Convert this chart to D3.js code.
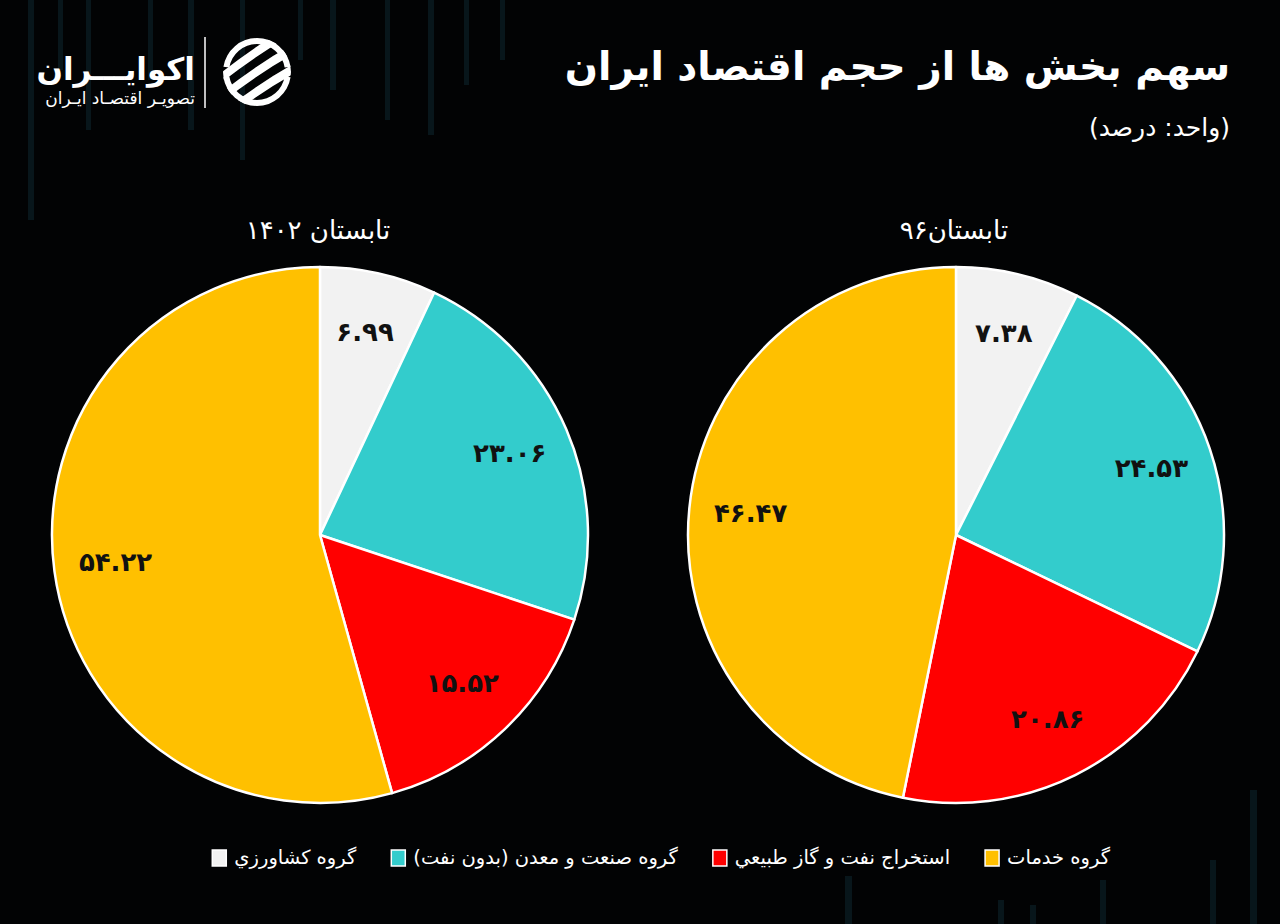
<!DOCTYPE html>
<html>
<head>
<meta charset="utf-8">
<script src="https://cdn.jsdelivr.net/npm/d3@7"></script>
<style>
  html, body { margin: 0; padding: 0; background: #000; }
  svg { display: block; }
  text { font-family: "DejaVu Sans", "Noto Sans", sans-serif; }
</style>
</head>
<body>
<div class="chart"></div>
<script>
// chart data
const categories = ["گروه کشاورزي", "گروه صنعت و معدن (بدون نفت)", "استخراج نفت و گاز طبیعي", "گروه خدمات"];
const colors = ["#f2f2f2", "#33cccc", "#ff0000", "#ffc000"];
const values1402 = [6.99, 23.06, 15.52, 54.22];
const values96 = [7.38, 24.53, 20.86, 46.47];
const pieTitles = ["تابستان ۱۴۰۲", "تابستان۹۶"];
const legendOrder = [3, 2, 1, 0];

window.addEventListener("load", function(){
  const W = 1280, H = 924;
  const svg = d3.select(".chart").append("svg").attr("width", W).attr("height", H);

  svg.append("rect").attr("width", W).attr("height", H).attr("fill", "#020304");

  // faint decorative bars of the background
  const topBars = [[28,6,220],[58,5,70],[86,5,130],[148,5,80],[188,6,130],[240,5,160],[298,5,60],[330,6,90],[385,5,120],[428,6,135],[464,5,85],[500,5,60]];
  const botBars = [[845,7,876],[1100,6,880],[1250,7,790],[1210,6,860],[998,6,900],[1030,6,905]];
  svg.append("g").selectAll("rect").data(topBars).enter().append("rect")
    .attr("x", d => d[0]).attr("y", 0).attr("width", d => d[1]).attr("height", d => d[2])
    .attr("fill", "#08161b");
  svg.append("g").selectAll("rect").data(botBars).enter().append("rect")
    .attr("x", d => d[0]).attr("y", d => d[2]).attr("width", d => d[1]).attr("height", d => H - d[2])
    .attr("fill", "#08161b");

  // logo
  const logo = svg.append("g");
  logo.append("text").attr("x", 195).attr("y", 80)
    .style("direction", "rtl").attr("text-anchor", "start")
    .attr("font-size", 31).attr("font-weight", "bold").attr("fill", "#fff")
    .text("اکوایـــران");
  logo.append("text").attr("x", 195).attr("y", 104)
    .style("direction", "rtl").attr("text-anchor", "start")
    .attr("font-size", 17).attr("fill", "#fff")
    .text("تصویـر اقتصـاد ایـران");
  logo.append("line").attr("x1", 205).attr("x2", 205).attr("y1", 37).attr("y2", 108)
    .attr("stroke", "#fff").attr("stroke-width", 1.5);
  const icon = logo.append("g").attr("transform", "translate(257,72)");
  icon.append("clipPath").attr("id", "logoClip").append("circle").attr("r", 34);
  const ig = icon.append("g").attr("clip-path", "url(#logoClip)");
  [-20, 0, 20].forEach(function(o){
    ig.append("path")
      .attr("d", "M" + (-40) + "," + (o + 24) + " Q 0," + (o - 8) + " 40," + (o - 30) + " L 40," + (o - 20) + " Q 0," + (o + 2) + " -40," + (o + 34) + " Z")
      .attr("fill", "#fff");
  });
  icon.append("path").attr("d", d3.arc()({innerRadius: 28, outerRadius: 34, startAngle: Math.PI * 0.55, endAngle: Math.PI * 1.45}))
    .attr("fill", "#fff");
  icon.append("path").attr("d", d3.arc()({innerRadius: 28, outerRadius: 34, startAngle: -Math.PI * 0.45, endAngle: Math.PI * 0.45}))
    .attr("fill", "#fff");

  // titles
  svg.append("text").attr("x", 1230).attr("y", 80)
    .style("direction", "rtl").attr("text-anchor", "start")
    .attr("font-size", 39).attr("font-weight", "bold").attr("fill", "#fff")
    .text("سهم بخش ها از حجم اقتصاد ایران");
  svg.append("text").attr("x", 1230).attr("y", 136)
    .style("direction", "rtl").attr("text-anchor", "start")
    .attr("font-size", 25).attr("fill", "#fff")
    .text("(واحد: درصد)");

  // pies
  const R = 268;
  const pie = d3.pie().sort(null).value(d => d);
  const arc = d3.arc().innerRadius(0).outerRadius(R);
  const labelArc = d3.arc().innerRadius(R * 0.77).outerRadius(R * 0.77);
  const toFa = s => String(s).replace(/\d/g, c => "۰۱۲۳۴۵۶۷۸۹"[+c]);

  const pies = [
    {cx: 320, values: values1402, title: pieTitles[0]},
    {cx: 956, values: values96, title: pieTitles[1]}
  ];

  pies.forEach(function(p){
    svg.append("text").attr("x", p.cx - 2).attr("y", 239)
      .style("direction", "rtl").attr("text-anchor", "middle")
      .attr("font-size", 26).attr("fill", "#fff")
      .text(p.title);

    const g = svg.append("g").attr("transform", "translate(" + p.cx + ",535)");
    const slices = g.selectAll(".slice").data(pie(p.values)).enter().append("g").attr("class", "slice");
    slices.append("path")
      .attr("d", arc)
      .attr("fill", (d, i) => colors[i])
      .attr("stroke", "#fff")
      .attr("stroke-width", 2.5)
      .attr("stroke-linejoin", "round");
    slices.append("text")
      .attr("transform", d => "translate(" + labelArc.centroid(d) + ")")
      .attr("dy", "0.3em")
      .attr("text-anchor", "middle")
      .attr("font-size", 26).attr("font-weight", "bold").attr("fill", "#111")
      .text(d => toFa(d.data.toFixed(2)));
  });

  // legend, right to left
  const legend = svg.append("g");
  let x = 1110;
  legendOrder.forEach(function(i){
    const t = legend.append("text").attr("x", x).attr("y", 864)
      .style("direction", "rtl").attr("text-anchor", "start")
      .attr("font-size", 19.5).attr("fill", "#fff")
      .text(categories[i]);
    const w = t.node().getComputedTextLength();
    const sx = x - w - 22;
    legend.append("rect").attr("x", sx).attr("y", 850).attr("width", 14).attr("height", 16)
      .attr("fill", colors[i]).attr("stroke", "#fff").attr("stroke-width", 1.5);
    x = sx - 35;
  });
});
</script>
</body>
</html>
